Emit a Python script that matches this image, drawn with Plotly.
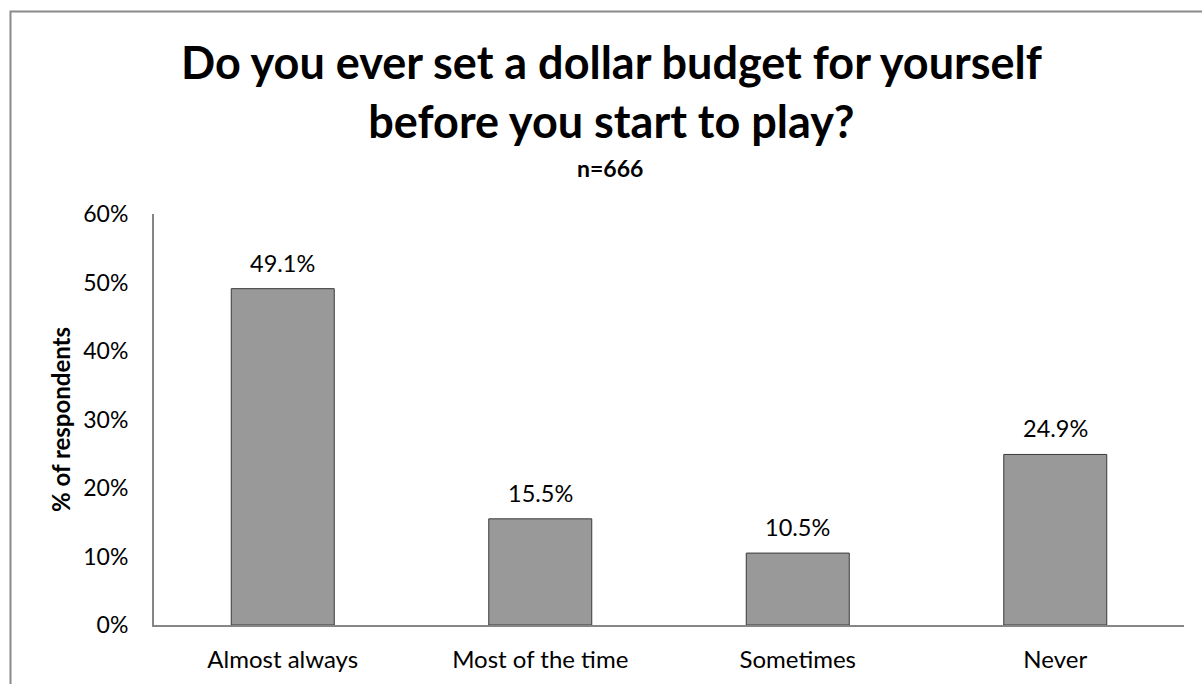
import plotly.graph_objects as go

categories = ["Almost always", "Most of the time", "Sometimes", "Never"]
values = [49.1, 15.5, 10.5, 24.9]
value_labels = ["49.1%", "15.5%", "10.5%", "24.9%"]
tick_vals = [0, 10, 20, 30, 40, 50, 60]
tick_text = ["0%", "10%", "20%", "30%", "40%", "50%", "60%"]

FONT = "Lato, Open Sans, sans-serif"

fig = go.Figure()
fig.add_trace(go.Bar(
    x=categories, y=values,
    marker=dict(color="#999999", line=dict(color="#3a3a3a", width=1)),
    width=0.4,
    hoverinfo="skip",
))

for c, v, t in zip(categories, values, value_labels):
    fig.add_annotation(x=c, y=v, text=t, showarrow=False, yshift=26,
                       font=dict(family=FONT, size=23.5, color="#000000"))

W, H = 1202, 684
L, R, T, B = 154, 18, 214, 59
pw, ph = W - L - R, H - T - B

def px(xp):
    return (xp - L) / pw

def py(yp):
    return (H - B - yp) / ph

fig.add_annotation(xref="paper", yref="paper", x=px(611), y=py(91),
                   text="<b>Do you ever set a dollar budget for yourself<br>before you start to play?</b>",
                   showarrow=False, xanchor="center", yanchor="middle",
                   font=dict(family=FONT, size=45, color="#000000"))
fig.add_annotation(xref="paper", yref="paper", x=px(610), y=py(168),
                   text="<b>n=666</b>", showarrow=False, xanchor="center", yanchor="middle",
                   font=dict(family=FONT, size=23, color="#000000"))

fig.add_shape(type="rect", xref="paper", yref="paper",
              x0=px(10.5), y0=py(720), x1=px(1230), y1=py(11.5),
              line=dict(color="#8a8a8a", width=2), fillcolor="rgba(0,0,0,0)", layer="below")

fig.update_layout(
    width=W, height=H,
    margin=dict(l=L, r=R, t=T, b=B),
    paper_bgcolor="white", plot_bgcolor="white",
    showlegend=False,
    bargap=0.6,
    font=dict(family=FONT, color="#000000"),
    xaxis=dict(showline=True, linecolor="#868686", linewidth=2,
               ticks="", tickfont=dict(family=FONT, size=24, color="#000000"),
               ticklabelstandoff=12, showgrid=False),
    yaxis=dict(range=[0, 60], tickvals=tick_vals, ticktext=tick_text,
               showline=True, linecolor="#868686", linewidth=2, showgrid=False,
               ticks="", tickfont=dict(family=FONT, size=23, color="#000000"),
               ticklabelstandoff=19, zeroline=False,
               title=dict(text="<b>% of respondents</b>", standoff=6,
                          font=dict(family=FONT, size=24, color="#000000"))),
)

fig.write_html("out.html")
